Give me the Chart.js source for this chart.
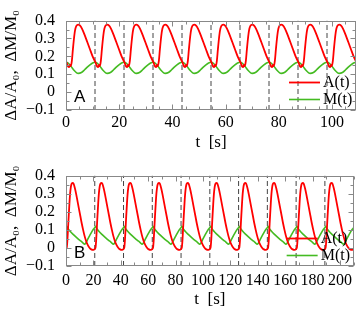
<!DOCTYPE html>
<html>
<head>
<meta charset="utf-8">
<script src="https://cdn.jsdelivr.net/npm/chart.js@4.4.1/dist/chart.umd.min.js"></script>
<style>
  html, body { margin: 0; padding: 0; background: #fff; }
  canvas { display: block; }
</style>
</head>
<body>
<canvas id="panelA" width="357" height="155"></canvas>
<canvas id="panelB" width="357" height="155"></canvas>
<script>
'use strict';

// Panel A: one period of each trace, time measured from the dashed line before it
const tauA = [0, 0.4, 0.8, 1.2, 1.5, 1.8, 2.2, 2.6, 3.0, 3.4, 3.9, 4.6, 5.3, 6.0, 7.0, 8.0, 9.0, 10.0, 10.9];
const areaA = [0.172, 0.158, 0.143, 0.140, 0.152, 0.146, 0.175, 0.240, 0.300, 0.345, 0.370, 0.378, 0.372, 0.355, 0.320, 0.280, 0.240, 0.200, 0.172];
const tauMA = [0, 1, 2, 3, 4, 4.6, 5.8, 7, 8, 9, 10, 10.9];
const massA = [0.167, 0.160, 0.142, 0.122, 0.108, 0.105, 0.110, 0.125, 0.140, 0.153, 0.163, 0.167];
const dashesA = [10.9, 21.8, 32.7, 43.6, 54.5, 65.4, 76.3, 87.2, 98.1];

// Panel B
const tauB = [0, 0.5, 1.0, 1.5, 2.0, 2.5, 3.0, 3.5, 4.0, 4.8, 5.5, 6.5, 7.5, 8.5, 9.5, 10.5, 11.5, 12.5, 13.5, 14.5, 15.5, 16.5, 17.5, 18.5, 19.5, 20.3, 21];
const areaB = [-0.006, 0.0, 0.04, 0.11, 0.18, 0.245, 0.30, 0.335, 0.353, 0.360, 0.355, 0.330, 0.295, 0.255, 0.215, 0.175, 0.135, 0.100, 0.068, 0.042, 0.022, 0.008, -0.002, -0.008, -0.011, -0.010, -0.006];
const tauMB = [0, 0.6, 1.5, 3, 5, 7, 9, 11, 12.5, 13.5, 14.3, 15.5, 17, 18.5, 20, 21];
const massB = [0.112, 0.120, 0.107, 0.092, 0.076, 0.062, 0.049, 0.037, 0.027, 0.021, 0.025, 0.042, 0.064, 0.085, 0.103, 0.112];
const dashesB = [21, 42, 63, 84, 105, 126, 147, 168, 189];

const yTicks = [-0.1, 0, 0.1, 0.2, 0.3, 0.4];
const RED = '#ff0000';
const GREEN = '#44bb22';
const FRAME = '#888888';
const SERIF = "'Liberation Serif', 'DejaVu Serif', serif";

// repeat a measured period at each cycle start
function tile(starts, tau, values) {
    const pts = [];
    starts.forEach((s, k) => {
        tau.forEach((dt, i) => {
            if (k > 0 && i === 0) return;
            pts.push({ x: +(s + dt).toFixed(3), y: values[i] });
        });
    });
    return pts;
}

function dashPoints(marks) {
    const pts = [];
    marks.forEach(m => {
        pts.push({ x: m, y: yTicks[0] }, { x: m, y: yTicks[yTicks.length - 1] }, { x: m, y: null });
    });
    return pts;
}

const framePlugin = {
    id: 'frame',
    afterDraw(chart, args, o) {
        const { ctx, chartArea: a, scales: { x, y } } = chart;
        const L = Math.round(a.left) + 0.5, R = Math.round(a.right) - 0.5;
        const T = Math.round(a.top) + 0.5, B = Math.round(a.bottom) - 0.5;
        ctx.save();
        ctx.strokeStyle = FRAME;
        ctx.lineWidth = 1;
        ctx.strokeRect(L, T, R - L, B - T);
        ctx.beginPath();
        for (let v = x.min; v <= x.max + 1e-9; v += o.minorX) {
            const px = Math.round(x.getPixelForValue(v)) + 0.5;
            const len = Math.abs(v / o.majorX - Math.round(v / o.majorX)) < 1e-6 ? 5 : 3;
            ctx.moveTo(px, B); ctx.lineTo(px, B - len);
            ctx.moveTo(px, T); ctx.lineTo(px, T + len);
        }
        for (let v = y.min; v <= y.max + 1e-9; v += o.minorY) {
            const py = Math.round(y.getPixelForValue(v)) + 0.5;
            const len = Math.abs(v / o.majorY - Math.round(v / o.majorY)) < 1e-6 ? 5 : 3;
            ctx.moveTo(L, py); ctx.lineTo(L + len, py);
            ctx.moveTo(R, py); ctx.lineTo(R - len, py);
        }
        ctx.stroke();

        // panel letter
        ctx.fillStyle = '#000';
        ctx.font = "17px 'Liberation Sans', Arial, sans-serif";
        ctx.textAlign = 'left';
        ctx.textBaseline = 'alphabetic';
        ctx.fillText(o.label, a.left + 8, a.bottom - 8);

        // legend
        ctx.font = '16px ' + SERIF;
        ctx.textBaseline = 'middle';
        const rows = chart.data.datasets.filter(d => d.label);
        rows.forEach((d, i) => {
            const ly = Math.round(a.bottom - 28 + i * 17) + 0.5;
            ctx.strokeStyle = d.borderColor;
            ctx.lineWidth = d.borderWidth;
            ctx.beginPath();
            ctx.moveTo(a.right - 67, ly);
            ctx.lineTo(a.right - 36, ly);
            ctx.stroke();
            ctx.fillText(d.label, a.right - 33, ly);
        });
        ctx.restore();
    }
};

function makePanel(id, cfg) {
    return new Chart(document.getElementById(id), {
        type: 'line',
        data: {
            datasets: [
                { label: 'A(t)', data: tile(cfg.starts, cfg.tau, cfg.area), borderColor: RED, borderWidth: 1.8 },
                { label: 'M(t)', data: tile(cfg.starts, cfg.tauM, cfg.mass), borderColor: GREEN, borderWidth: 1.6 },
                { label: '', data: dashPoints(cfg.dashes), borderColor: '#444', borderWidth: 1, borderDash: [5, 3], tension: 0, cubicInterpolationMode: 'default', spanGaps: false }
            ]
        },
        options: {
            responsive: false,
            animation: false,
            events: [],
            layout: { padding: { top: cfg.top, right: 1, left: 0, bottom: 0 } },
            elements: {
                point: { radius: 0 },
                line: { cubicInterpolationMode: 'monotone', fill: false }
            },
            plugins: {
                legend: { display: false },
                tooltip: { enabled: false },
                frame: { label: cfg.letter, minorX: cfg.minorX, majorX: 20, minorY: 0.05, majorY: 0.1 }
            },
            scales: {
                x: {
                    type: 'linear',
                    min: 0,
                    max: cfg.xMax,
                    afterFit(s) { s.height = cfg.xHeight; },
                    grid: { display: false, drawTicks: false },
                    border: { display: false },
                    ticks: {
                        stepSize: 20, includeBounds: false, autoSkip: false, maxRotation: 0,
                        padding: cfg.xPad, color: '#000', font: { family: SERIF, size: 16 }
                    },
                    title: {
                        display: true, text: 't  [s]', color: '#000',
                        font: { family: SERIF, size: 17 }, padding: { top: 0, bottom: cfg.titlePad }
                    }
                },
                y: {
                    type: 'linear',
                    min: yTicks[0],
                    max: yTicks[yTicks.length - 1],
                    afterFit(s) { s.width = 66; },
                    afterBuildTicks(s) { s.ticks = yTicks.map(v => ({ value: v })); },
                    grid: { display: false, drawTicks: false },
                    border: { display: false },
                    ticks: {
                        autoSkip: false,
                        padding: 11, color: '#000', font: { family: SERIF, size: 16 },
                        callback: v => v === 0 ? '0' : (v < 0 ? '\u2212' : '') + Math.abs(v).toFixed(1)
                    },
                    title: {
                        display: true, text: '\u0394A/A\u2080,  \u0394M/M\u2080', color: '#000',
                        font: { family: SERIF, size: 17 }, padding: { top: 1, bottom: 0 }
                    }
                }
            }
        },
        plugins: [framePlugin]
    });
}

makePanel('panelA', {
    letter: 'A', starts: [0, ...dashesA], dashes: dashesA,
    tau: tauA, area: areaA, tauM: tauMA, mass: massA,
    xMax: 109, minorX: 5, top: 5, xHeight: 45, xPad: 3, titlePad: 2
});
makePanel('panelB', {
    letter: 'B', starts: [0, ...dashesB], dashes: dashesB,
    tau: tauB, area: areaB, tauM: tauMB, mass: massB,
    xMax: 210, minorX: 10, top: 7, xHeight: 44, xPad: 5, titlePad: 0
});
</script>
</body>
</html>
